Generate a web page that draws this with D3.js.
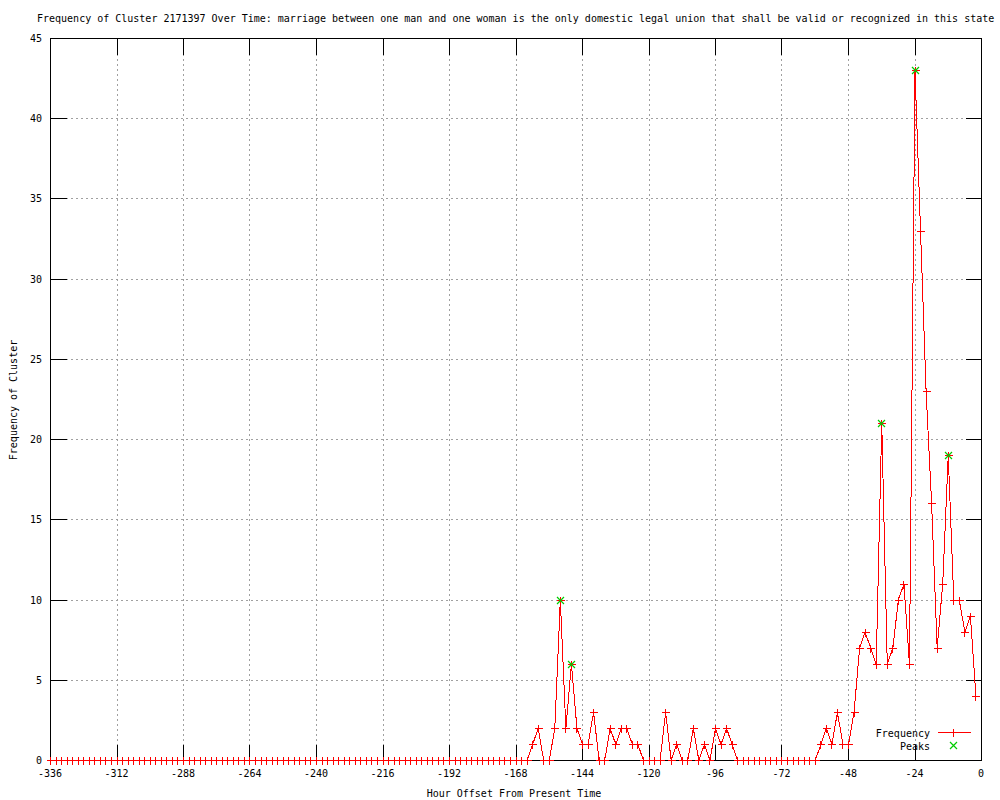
<!DOCTYPE html>
<html>
<head>
<meta charset="utf-8">
<script src="https://cdn.jsdelivr.net/npm/d3@7.9.0/dist/d3.min.js"></script>
<style>
  body { margin: 0; background: #fff; }
  text { font-family: "DejaVu Sans Mono", "Liberation Mono", monospace; font-size: 10px; fill: #000; }
</style>
</head>
<body>
<svg id="chart" width="1000" height="800"></svg>
<script>
const title = 'Frequency of Cluster 2171397 Over Time: marriage between one man and one woman is the only domestic legal union that shall be valid or recognized in this state';
const xLabel = 'Hour Offset From Present Time';
const yLabel = 'Frequency of Cluster';

// one point every 2 hours, -336 .. -2
const hours = d3.range(-336, 0, 2);
const frequency = [
  0, 0, 0, 0, 0, 0, 0, 0, 0, 0, 0, 0,   // -336
  0, 0, 0, 0, 0, 0, 0, 0, 0, 0, 0, 0,   // -312
  0, 0, 0, 0, 0, 0, 0, 0, 0, 0, 0, 0,   // -288
  0, 0, 0, 0, 0, 0, 0, 0, 0, 0, 0, 0,   // -264
  0, 0, 0, 0, 0, 0, 0, 0, 0, 0, 0, 0,   // -240
  0, 0, 0, 0, 0, 0, 0, 0, 0, 0, 0, 0,   // -216
  0, 0, 0, 0, 0, 0, 0, 0, 0, 0, 0, 0,   // -192
  0, 0, 0, 1, 2, 0, 0, 2, 10, 2, 6, 2,  // -168
  1, 1, 3, 0, 0, 2, 1, 2, 2, 1, 1, 0,   // -144
  0, 0, 0, 3, 0, 1, 0, 0, 2, 0, 1, 0,   // -120
  2, 1, 2, 1, 0, 0, 0, 0, 0, 0, 0, 0,   // -96
  0, 0, 0, 0, 0, 0, 0, 1, 2, 1, 3, 1,   // -72
  1, 3, 7, 8, 7, 6, 21, 6, 7, 10, 11, 6, // -48
  43, 33, 23, 16, 7, 11, 19, 10, 10, 8, 9, 4 // -24
];
const peakHours = [-152, -148, -36, -24, -12];

const xTicks = [-336, -312, -288, -264, -240, -216, -192, -168, -144, -120, -96, -72, -48, -24, 0];
const yTicks = [0, 5, 10, 15, 20, 25, 30, 35, 40, 45];

const plotLeft = 50, plotRight = 981, plotTop = 38, plotBottom = 760;
const tickLen = 16;

const x = d3.scaleLinear().domain([-336, 0]).range([plotLeft, plotRight]);
const y = d3.scaleLinear().domain([0, 45]).range([plotBottom, plotTop]);

const svg = d3.select('#chart');
const g = svg.append('g').attr('transform', 'translate(0.5,0.5)')
  .attr('shape-rendering', 'crispEdges');

// grid
g.selectAll('.vgrid').data(xTicks.slice(1, -1)).join('line')
  .attr('x1', d => Math.round(x(d))).attr('x2', d => Math.round(x(d)))
  .attr('y1', plotTop).attr('y2', plotBottom)
  .attr('stroke', '#a0a0a0').attr('stroke-dasharray', '2,3');
g.selectAll('.hgrid').data(yTicks.slice(1, -1)).join('line')
  .attr('y1', d => Math.round(y(d))).attr('y2', d => Math.round(y(d)))
  .attr('x1', plotLeft).attr('x2', plotRight)
  .attr('stroke', '#a0a0a0').attr('stroke-dasharray', '2,3');

// tick marks, mirrored on all sides
xTicks.forEach(t => {
  const px = Math.round(x(t));
  g.append('line').attr('x1', px).attr('x2', px).attr('y1', plotBottom).attr('y2', plotBottom - tickLen).attr('stroke', '#000');
  g.append('line').attr('x1', px).attr('x2', px).attr('y1', plotTop).attr('y2', plotTop + tickLen).attr('stroke', '#000');
});
yTicks.forEach(t => {
  const py = Math.round(y(t));
  g.append('line').attr('y1', py).attr('y2', py).attr('x1', plotLeft).attr('x2', plotLeft + tickLen).attr('stroke', '#000');
  g.append('line').attr('y1', py).attr('y2', py).attr('x1', plotRight).attr('x2', plotRight - tickLen).attr('stroke', '#000');
});

g.append('rect').attr('x', plotLeft).attr('y', plotTop)
  .attr('width', plotRight - plotLeft).attr('height', plotBottom - plotTop)
  .attr('fill', 'none').attr('stroke', '#000');

// tick labels
svg.selectAll('.xlab').data(xTicks).join('text')
  .attr('x', d => x(d)).attr('y', 777)
  .attr('text-anchor', 'middle').text(d => d);
svg.selectAll('.ylab').data(yTicks).join('text')
  .attr('x', 42).attr('y', d => y(d) + 4)
  .attr('text-anchor', 'end').text(d => d);

// titles
svg.append('text').attr('x', 37).attr('y', 22).text(title);
svg.append('text').attr('x', 514).attr('y', 797).attr('text-anchor', 'middle').text(xLabel);
svg.append('text').attr('transform', 'translate(17,400) rotate(-90)')
  .attr('text-anchor', 'middle').text(yLabel);

// frequency line
const data = hours.map((h, i) => ({ h, v: frequency[i] }));
const line = d3.line().x(d => x(d.h)).y(d => y(d.v));
g.append('path').datum(data).attr('d', line)
  .attr('fill', 'none').attr('stroke', '#ff0000').attr('stroke-width', 1);

const plus = (sel, cx, cy, color) => {
  sel.append('path')
    .attr('d', `M${cx - 4},${cy}H${cx + 4}M${cx},${cy - 4}V${cy + 4}`)
    .attr('stroke', color).attr('fill', 'none');
};
const cross = (sel, cx, cy, color) => {
  sel.append('path')
    .attr('d', `M${cx - 3.5},${cy - 3.5}L${cx + 3.5},${cy + 3.5}M${cx - 3.5},${cy + 3.5}L${cx + 3.5},${cy - 3.5}`)
    .attr('stroke', color).attr('fill', 'none').attr('stroke-width', 1.2)
    .attr('shape-rendering', 'auto');
};

data.forEach(d => plus(g, Math.round(x(d.h)), Math.round(y(d.v)), '#ff0000'));

// peaks
peakHours.forEach(h => {
  const v = frequency[hours.indexOf(h)];
  cross(g, Math.round(x(h)), Math.round(y(v)), '#00cc00');
});

// legend
svg.append('text').attr('x', 930).attr('y', 737).attr('text-anchor', 'end').text('Frequency');
g.append('line').attr('x1', 937).attr('x2', 970).attr('y1', 732).attr('y2', 732).attr('stroke', '#ff0000');
plus(g, 953, 732, '#ff0000');
svg.append('text').attr('x', 930).attr('y', 750).attr('text-anchor', 'end').text('Peaks');
cross(g, 953, 745, '#00cc00');
</script>
</body>
</html>
